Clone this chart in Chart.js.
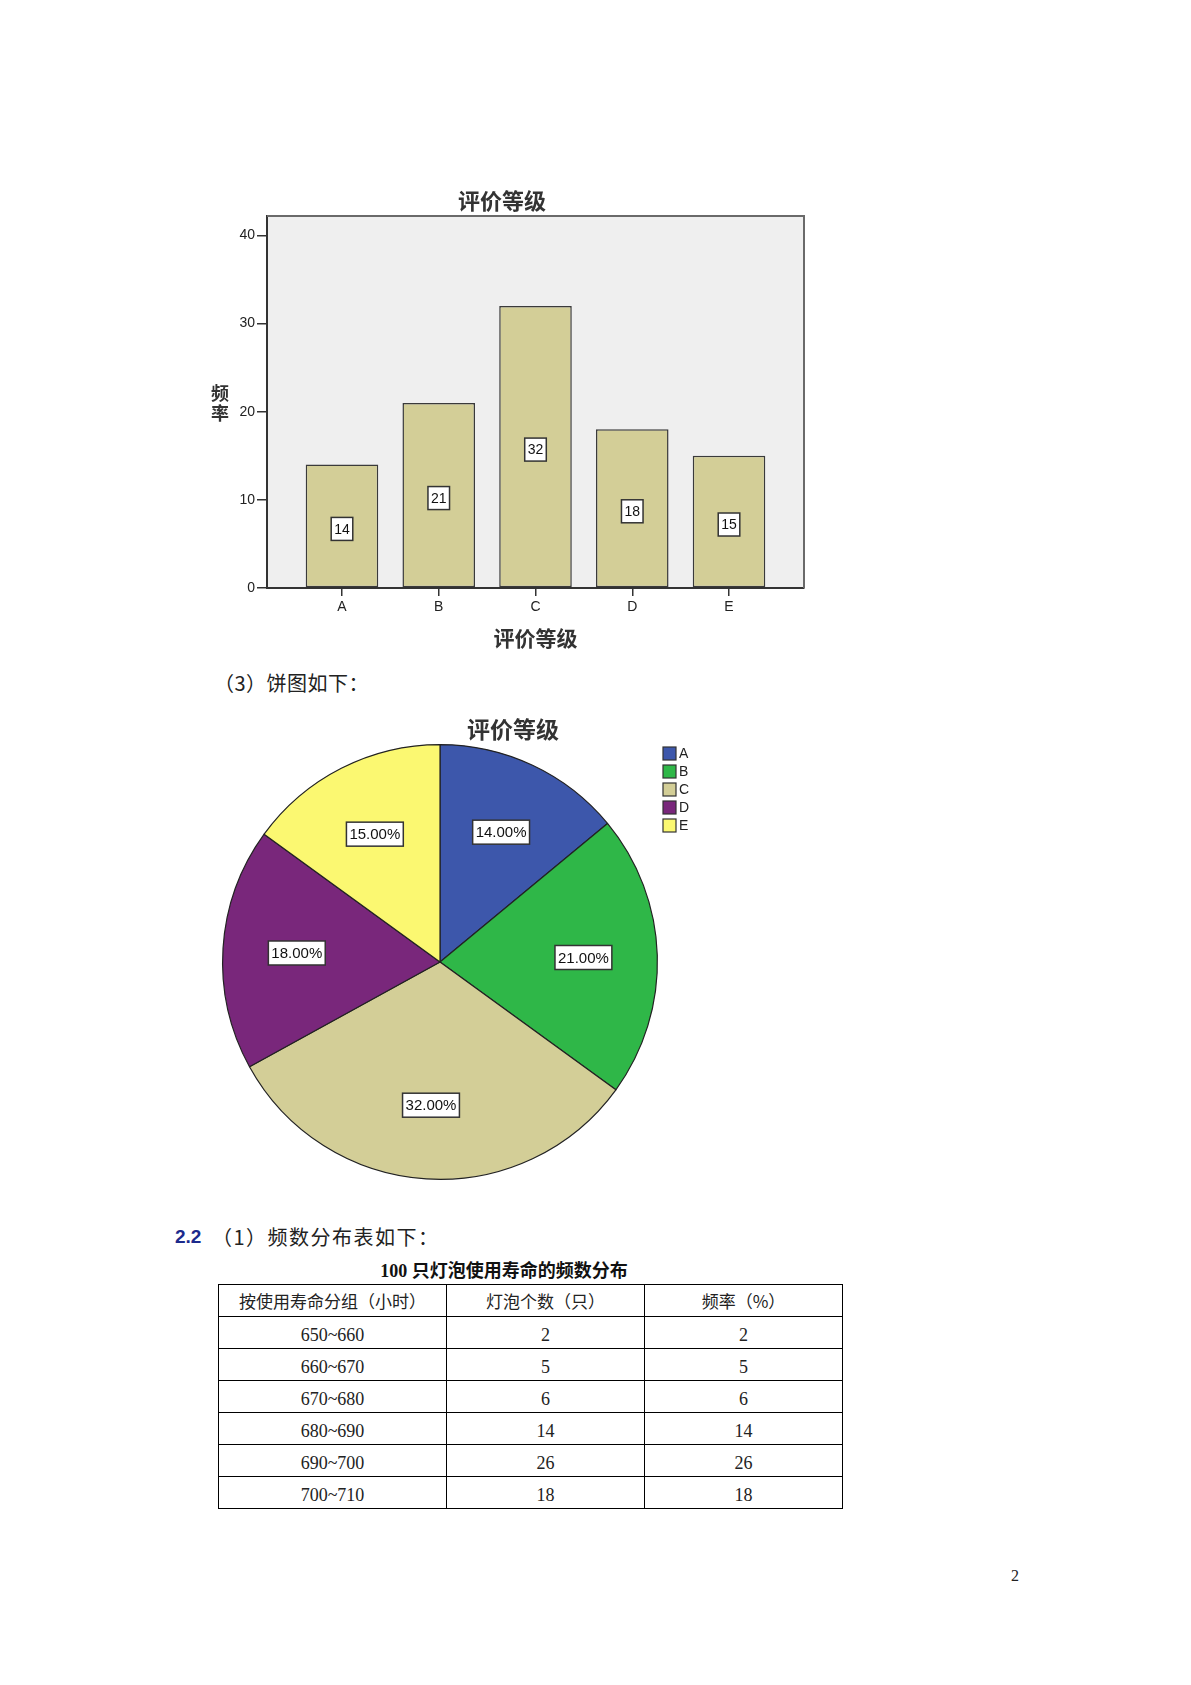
<!DOCTYPE html>
<html>
<head>
<meta charset="utf-8">
<script src="https://cdn.jsdelivr.net/npm/chart.js@4.4.1/dist/chart.umd.min.js"></script>
<style>
  body { margin: 0; background: #fff; }
  #page { position: relative; width: 1191px; height: 1685px; overflow: hidden; background: #fff; color: #111;
          font-family: "Liberation Serif", "Noto Sans CJK SC", serif; }
  .abs { position: absolute; white-space: nowrap; }
  .cjk { font-family: "Noto Sans CJK SC", sans-serif; }
  #barWrap { position: absolute; left: 180px; top: 170px; width: 644px; height: 490px; }
  #pieWrap { position: absolute; left: 190px; top: 700px; width: 646px; height: 500px; }
  #freqTable { position: absolute; left: 218px; top: 1284px; border-collapse: collapse; }
  #freqTable td { border: 1px solid #000; padding: 0; text-align: center; vertical-align: middle; }
  #freqTable td.h { height: 31px; font-family: "Noto Sans CJK SC", sans-serif; font-size: 17px; color: #222; }
  #freqTable td.d { height: 25px; padding-top: 6px; font-family: "Liberation Serif", serif; font-size: 18px; color: #222; }
</style>
</head>
<body>
<div id="page">
  <div id="barWrap"><canvas id="barChart"></canvas></div>

  <div class="abs cjk" style="left:214px; top:669px; font-size:20px; letter-spacing:0.5px; line-height:28px; color:#222;">（3）饼图如下：</div>

  <div id="pieWrap"><canvas id="pieChart"></canvas></div>

  <div class="abs" style="left:175px; top:1224px; font-family:'Liberation Sans',Arial,sans-serif; font-weight:bold; font-size:19px; line-height:26px; color:#1c2a8c;">2.2</div>
  <div class="abs cjk" style="left:212px; top:1223px; font-size:20px; letter-spacing:1.5px; line-height:28px; color:#222;">（1）频数分布表如下：</div>

  <div class="abs" id="tableTitle" style="left:304px; width:400px; text-align:center; top:1258px; font-size:18px; line-height:26px; font-weight:bold; color:#111;"></div>

  <table id="freqTable"></table>

  <div class="abs" style="left:1011px; top:1565px; font-size:16px; line-height:22px; color:#222;">2</div>
</div>

<script>
// ---------- data ----------
const categories = ['A', 'B', 'C', 'D', 'E'];
const counts = [14, 21, 32, 18, 15];
const yTickValues = [0, 10, 20, 30, 40];
const chartTitle = '评价等级';
const xAxisTitle = '评价等级';
const yAxisTitle = ['频', '率'];

const tableTitle = '100 只灯泡使用寿命的频数分布';
const tableHeaders = ['按使用寿命分组（小时）', '灯泡个数（只）', '频率（%）'];
const lifeGroups = ['650~660', '660~670', '670~680', '680~690', '690~700', '700~710'];
const bulbCounts = [2, 5, 6, 14, 26, 18];
const bulbFreq = [2, 5, 6, 14, 26, 18];

// ---------- styles ----------
const barColor = '#D3CE97';
const pieColors = ['#3D57AB', '#2FB748', '#D3CE97', '#79277B', '#FBF871'];
const cjkFamily = "'Noto Sans CJK SC', sans-serif";
const latinFamily = "'Liberation Sans', Arial, sans-serif";

// ---------- table ----------
document.getElementById('tableTitle').textContent = tableTitle;
(function buildTable() {
  const t = document.getElementById('freqTable');
  const widths = [227, 197, 197];
  const hr = document.createElement('tr');
  tableHeaders.forEach((h, i) => {
    const td = document.createElement('td');
    td.className = 'h';
    td.style.width = widths[i] + 'px';
    td.textContent = h;
    hr.appendChild(td);
  });
  t.appendChild(hr);
  lifeGroups.forEach((g, r) => {
    const tr = document.createElement('tr');
    [g, bulbCounts[r], bulbFreq[r]].forEach((v) => {
      const td = document.createElement('td');
      td.className = 'd';
      td.textContent = v;
      tr.appendChild(td);
    });
    t.appendChild(tr);
  });
})();

// ---------- bar chart ----------
const barPlugin = {
  id: 'barDecor',
  beforeDraw(chart) {
    const { ctx, chartArea: a } = chart;
    ctx.save();
    ctx.fillStyle = '#EFEFEF';
    ctx.fillRect(a.left, a.top, a.right - a.left, a.bottom - a.top);
    ctx.restore();
  },
  afterDraw(chart) {
    const { ctx, chartArea: a } = chart;
    ctx.save();
    // frame (top / right)
    ctx.strokeStyle = '#6a6a6a';
    ctx.lineWidth = 2;
    ctx.beginPath();
    ctx.moveTo(a.left, a.top);
    ctx.lineTo(a.right, a.top);
    ctx.lineTo(a.right, a.bottom);
    ctx.stroke();
    // value labels
    const meta = chart.getDatasetMeta(0);
    ctx.font = '14px ' + latinFamily;
    ctx.textAlign = 'center';
    ctx.textBaseline = 'middle';
    meta.data.forEach((el, i) => {
      const txt = String(counts[i]);
      const cx = el.x;
      const cy = (el.y + el.base) / 2 + 3;
      const w = ctx.measureText(txt).width + 6;
      const h = 23;
      ctx.fillStyle = '#fff';
      ctx.fillRect(cx - w / 2, cy - h / 2, w, h);
      ctx.strokeStyle = '#333';
      ctx.lineWidth = 1.5;
      ctx.strokeRect(cx - w / 2, cy - h / 2, w, h);
      ctx.fillStyle = '#111';
      ctx.fillText(txt, cx, cy + 1);
    });
    // chart title (centred on the whole graphic)
    ctx.font = 'bold 22px ' + cjkFamily;
    ctx.fillStyle = '#333';
    ctx.fillText(chartTitle, chart.width / 2, 31);
    // y axis title (stacked upright characters)
    ctx.font = 'bold 18px ' + cjkFamily;
    const mid = (a.top + a.bottom) / 2;
    yAxisTitle.forEach((ch, i) => {
      ctx.fillText(ch, a.left - 47, mid - 9 + i * 20);
    });
    ctx.restore();
  }
};

new Chart(document.getElementById('barChart'), {
  type: 'bar',
  data: {
    datasets: [{
      data: counts.map((v, i) => ({ x: i, y: v })),
      backgroundColor: barColor,
      borderColor: '#3a3a3a',
      borderWidth: 1.5,
      borderSkipped: false,
      barPercentage: 0.75,
      categoryPercentage: 1
    }]
  },
  options: {
    responsive: true,
    maintainAspectRatio: false,
    animation: false,
    events: [],
    layout: { padding: { left: 0, right: 20, top: 46, bottom: 0 } },
    plugins: {
      legend: { display: false },
      tooltip: { enabled: false },
      title: { display: false }
    },
    scales: {
      x: {
        type: 'linear',
        offset: false,
        min: -0.775,
        max: categories.length - 1 + 0.775,
        afterBuildTicks(scale) { scale.ticks = categories.map((c, i) => ({ value: i })); },
        afterFit(scale) { scale.height = 72; },
        ticks: {
          autoSkip: false,
          maxRotation: 0,
          padding: 3,
          color: '#222',
          font: { family: latinFamily, size: 14 },
          callback: (v) => categories[v]
        },
        grid: { offset: false, drawOnChartArea: false, drawTicks: true, tickLength: 8, color: '#333', lineWidth: 1.5 },
        border: { display: true, color: '#333', width: 2 },
        title: {
          display: true,
          text: xAxisTitle,
          color: '#333',
          font: { family: cjkFamily, size: 21, weight: 'bold', lineHeight: 1.2 },
          padding: { top: 0, bottom: 9 }
        }
      },
      y: {
        min: 0,
        max: 42.2,
        afterBuildTicks(scale) { scale.ticks = yTickValues.map(v => ({ value: v })); },
        afterFit(scale) { scale.width = 87; },
        ticks: {
          padding: 2,
          color: '#222',
          font: { family: latinFamily, size: 14 }
        },
        grid: { drawOnChartArea: false, drawTicks: true, tickLength: 10, color: '#333', lineWidth: 1.5 },
        border: { display: true, color: '#333', width: 2 }
      }
    }
  },
  plugins: [barPlugin]
});

// ---------- pie chart ----------
const total = counts.reduce((s, v) => s + v, 0);
const piePlugin = {
  id: 'pieDecor',
  afterDraw(chart) {
    const { ctx } = chart;
    ctx.save();
    // slice labels
    const meta = chart.getDatasetMeta(0);
    ctx.font = '15px ' + latinFamily;
    ctx.textAlign = 'center';
    ctx.textBaseline = 'middle';
    meta.data.forEach((arc, i) => {
      const txt = (counts[i] / total * 100).toFixed(2) + '%';
      const ang = (arc.startAngle + arc.endAngle) / 2;
      const r = arc.outerRadius * 0.66;
      const cx = arc.x + Math.cos(ang) * r;
      const cy = arc.y + Math.sin(ang) * r;
      const w = ctx.measureText(txt).width + 6;
      const h = 24;
      ctx.fillStyle = '#fff';
      ctx.fillRect(cx - w / 2, cy - h / 2, w, h);
      ctx.strokeStyle = '#333';
      ctx.lineWidth = 1.5;
      ctx.strokeRect(cx - w / 2, cy - h / 2, w, h);
      ctx.fillStyle = '#111';
      ctx.fillText(txt, cx, cy + 1);
    });
    // title
    ctx.font = 'bold 23px ' + cjkFamily;
    ctx.fillStyle = '#333';
    ctx.fillText(chartTitle, chart.width / 2, 29);
    // legend
    const lx = 473, ly = 47;
    ctx.textAlign = 'left';
    ctx.font = '14px ' + latinFamily;
    categories.forEach((c, i) => {
      const y = ly + i * 18;
      ctx.fillStyle = pieColors[i];
      ctx.fillRect(lx, y, 13, 13);
      ctx.strokeStyle = '#333';
      ctx.lineWidth = 1.2;
      ctx.strokeRect(lx, y, 13, 13);
      ctx.fillStyle = '#222';
      ctx.fillText(c, lx + 16, y + 7);
    });
    ctx.restore();
  }
};

new Chart(document.getElementById('pieChart'), {
  type: 'pie',
  data: {
    labels: categories,
    datasets: [{
      data: counts,
      backgroundColor: pieColors,
      borderColor: '#222',
      borderWidth: 1.2
    }]
  },
  options: {
    responsive: true,
    maintainAspectRatio: false,
    animation: false,
    events: [],
    layout: { padding: { left: 32, right: 178, top: 44, bottom: 20 } },
    plugins: {
      legend: { display: false },
      tooltip: { enabled: false },
      title: { display: false }
    }
  },
  plugins: [piePlugin]
});
</script>
</body>
</html>
